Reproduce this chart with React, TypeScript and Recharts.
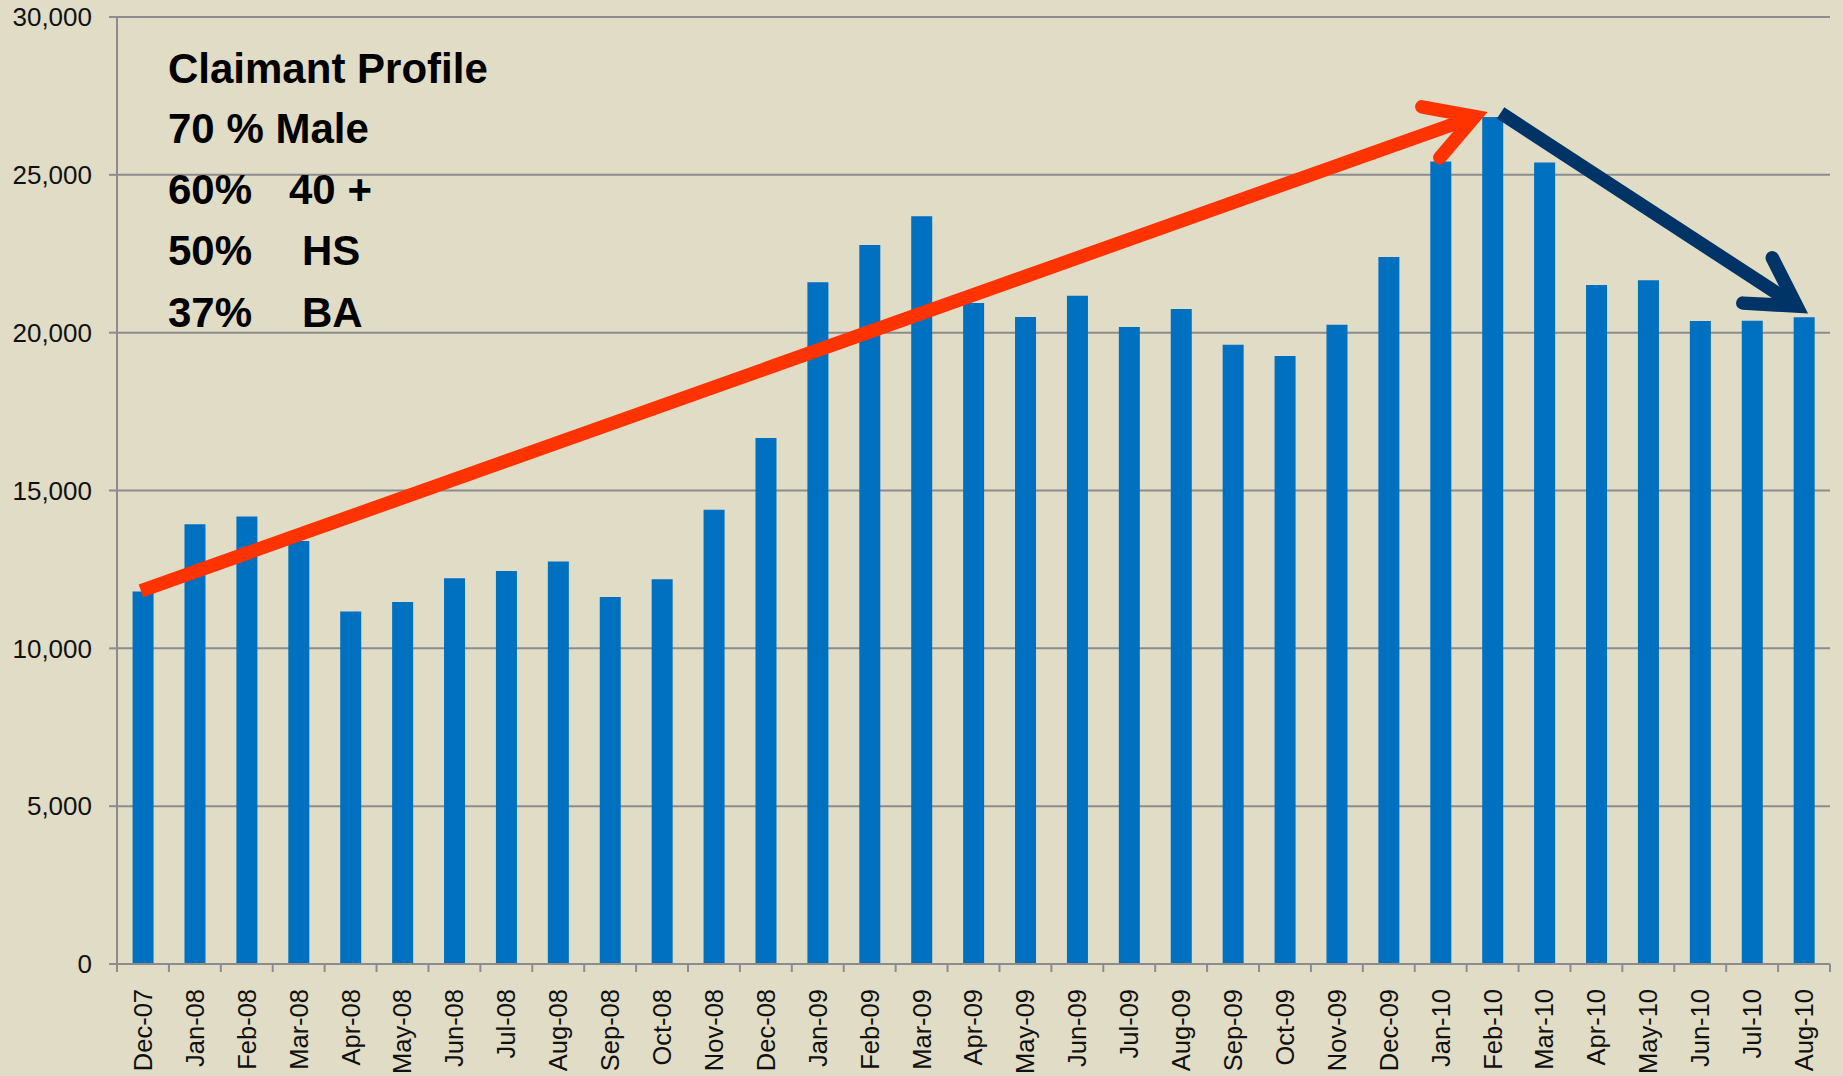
import React from "react";
import { BarChart, Bar, XAxis, YAxis, CartesianGrid, ReferenceLine } from "recharts";

// ── Data ───────────────────────────────────────────────────────────────
const months = [
  "Dec-07",
  "Jan-08", "Feb-08", "Mar-08", "Apr-08", "May-08", "Jun-08",
  "Jul-08", "Aug-08", "Sep-08", "Oct-08", "Nov-08", "Dec-08",
  "Jan-09", "Feb-09", "Mar-09", "Apr-09", "May-09", "Jun-09",
  "Jul-09", "Aug-09", "Sep-09", "Oct-09", "Nov-09", "Dec-09",
  "Jan-10", "Feb-10", "Mar-10", "Apr-10", "May-10", "Jun-10",
  "Jul-10", "Aug-10",
];

const claimants = [
  11800,
  13930, 14180, 13400, 11170, 11470, 12220,
  12450, 12750, 11630, 12190, 14390, 16660,
  21600, 22780, 23690, 20940, 20500, 21170,
  20180, 20750, 19620, 19260, 20250, 22400,
  25420, 26830, 25390, 21510, 21660, 20370,
  20380, 20490,
];

const yTicks = [0, 5000, 10000, 15000, 20000, 25000, 30000];

// profile text: [left column, right column]
const profileTitle = "Claimant Profile";
const profileRows = [
  ["70 % Male", ""],
  ["60%", "40 +"],
  ["50%", "HS"],
  ["37%", "BA"],
];

// trend arrows, in data space
const riseArrow = [{ x: "Dec-07", y: 11820 }, { x: "Feb-10", y: 26990 }];
const fallArrow = [{ x: "Feb-10", y: 26960 }, { x: "Aug-10", y: 20610 }];

// ── Layout ─────────────────────────────────────────────────────────────
const W = 1843;
const H = 1076;
const MARGIN = { top: 17, right: 13, left: 0, bottom: 0 };
const Y_AXIS_W = 117;
const X_AXIS_H = 112;
const BAND = (W - MARGIN.left - MARGIN.right - Y_AXIS_W) / months.length;

const BG = "#E0DCC6";
const GRID = "#8c8c8c";
const FONT = '"Liberation Sans", Arial, sans-serif';

// ── Ticks ──────────────────────────────────────────────────────────────
function MonthTick({ x, y, payload, index }: any) {
  const left = x - BAND / 2;
  const ty = y + 25;
  return (
    <g>
      <line x1={left} y1={y} x2={left} y2={y + 8} stroke={GRID} strokeWidth={2} />
      {index === months.length - 1 && (
        <line x1={x + BAND / 2} y1={y} x2={x + BAND / 2} y2={y + 8} stroke={GRID} strokeWidth={2} />
      )}
      <text
        x={x}
        y={ty}
        dy="0.35em"
        textAnchor="end"
        transform={`rotate(-90, ${x}, ${ty})`}
        fontSize={25.5}
        fontFamily={FONT}
        fill="#111"
      >
        {payload.value}
      </text>
    </g>
  );
}

// ── Arrow shape for ReferenceLine segments ─────────────────────────────
function arrowShape(color: string, dx1: number, dx2: number) {
  return (p: any) => {
    const x1 = p.x1 + dx1;
    const y1 = p.y1;
    const x2 = p.x2 + dx2;
    const y2 = p.y2;
    const sw = 13.5;
    const spread = Math.PI / 6;
    const arm = 54;
    const ang = Math.atan2(y2 - y1, x2 - x1);
    const back = sw / 2 / Math.sin(spread);
    const vx = x2 - back * Math.cos(ang);
    const vy = y2 - back * Math.sin(ang);
    const a1 = ang + Math.PI - spread;
    const a2 = ang + Math.PI + spread;
    const pts = [
      [vx + arm * Math.cos(a1), vy + arm * Math.sin(a1)],
      [vx, vy],
      [vx + arm * Math.cos(a2), vy + arm * Math.sin(a2)],
    ]
      .map((q) => q.join(","))
      .join(" ");
    return (
      <g>
        <line x1={x1} y1={y1} x2={vx} y2={vy} stroke={color} strokeWidth={sw} strokeLinecap="butt" />
        <polyline
          points={pts}
          fill="none"
          stroke={color}
          strokeWidth={sw}
          strokeLinejoin="miter"
          strokeLinecap="round"
        />
      </g>
    );
  };
}

// ── Component ──────────────────────────────────────────────────────────
export default function App() {
  const data = months.map((m, i) => ({ month: m, claimants: claimants[i] }));

  return (
    <div style={{ position: "absolute", left: 0, top: 0, width: W, height: H, background: BG }}>
      <BarChart width={W} height={H} data={data} margin={MARGIN} barCategoryGap="30%">
        <CartesianGrid horizontal vertical={false} stroke={GRID} strokeWidth={2} />
        <XAxis
          dataKey="month"
          interval={0}
          height={X_AXIS_H}
          tickSize={0}
          tickMargin={0}
          tickLine={false}
          axisLine={{ stroke: GRID, strokeWidth: 2 }}
          tick={<MonthTick />}
        />
        <YAxis
          width={Y_AXIS_W}
          domain={[0, 30000]}
          ticks={yTicks}
          interval={0}
          tickSize={8}
          tickMargin={17}
          tickLine={{ stroke: GRID, strokeWidth: 2 }}
          axisLine={{ stroke: GRID, strokeWidth: 2 }}
          tick={{ fontSize: 26, fill: "#111", fontFamily: FONT }}
          tickFormatter={(v: number) => v.toLocaleString("en-US")}
        />
        <Bar dataKey="claimants" fill="#0070C0" isAnimationActive={false} />
        <ReferenceLine segment={riseArrow} shape={arrowShape("#FF3300", -2, -5)} />
        <ReferenceLine segment={fallArrow} shape={arrowShape("#003366", 8, 4)} />
      </BarChart>

      <svg
        width={W}
        height={H}
        style={{ position: "absolute", left: 0, top: 0, pointerEvents: "none" }}
        fontFamily={FONT}
        fontWeight="bold"
        fontSize={42}
        fill="#000"
      >
        <text x={168} y={83}>{profileTitle}</text>
        {profileRows.map((r, i) => (
          <g key={i}>
            <text x={168} y={143 + i * 61.2}>{r[0]}</text>
            {r[1] && <text x={i === 1 ? 289 : 302} y={143 + i * 61.2}>{r[1]}</text>}
          </g>
        ))}
      </svg>
    </div>
  );
}
